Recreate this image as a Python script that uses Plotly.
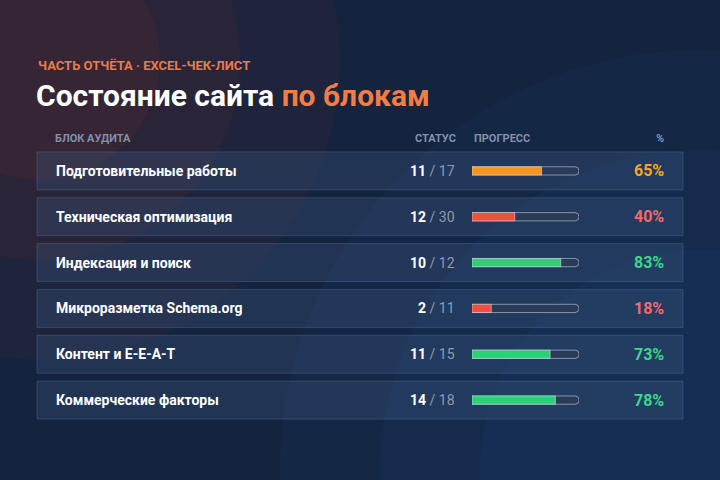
import plotly.graph_objects as go

blocks = ["Подготовительные работы", "Техническая оптимизация", "Индексация и поиск",
          "Микроразметка Schema.org", "Контент и E-E-A-T", "Коммерческие факторы"]
done = [11, 12, 10, 2, 11, 14]
total = [17, 30, 12, 11, 15, 18]
pct = [65, 40, 83, 18, 73, 78]
bar_colors = ["#f7941d", "#f04e3e", "#2fcf7a", "#f04e3e", "#2fcf7a", "#2fcf7a"]
pct_colors = ["#f5a72a", "#f26a6a", "#3dd68c", "#f26a6a", "#3dd68c", "#3dd68c"]

W, H = 720, 480
FONT = "Roboto, Inter, sans-serif"

fig = go.Figure()

# background glow (decorative)
for r, op, col in [(420, 0.10, "#1d4a86"), (320, 0.12, "#1d4a86"), (220, 0.14, "#1d4a86")]:
    fig.add_shape(type="circle", xref="paper", yref="paper", layer="below",
                  x0=(700 - r) / W, x1=(700 + r) / W, y0=1 - (470 + r) / H, y1=1 - (470 - r) / H,
                  fillcolor=col, opacity=op, line_width=0)
for r, op in [(300, 0.10), (200, 0.14), (120, 0.16)]:
    fig.add_shape(type="circle", xref="paper", yref="paper", layer="below",
                  x0=(40 - r) / W, x1=(40 + r) / W, y0=1 - (60 + r) / H, y1=1 - (60 - r) / H,
                  fillcolor="#7a2e24", opacity=op, line_width=0)

# tracks and progress bars
fig.add_trace(go.Bar(y=blocks, x=[100] * len(blocks), orientation="h", marker_color="#2a3b58",
                     width=0.18, hoverinfo="skip"))
fig.add_trace(go.Bar(y=blocks, x=pct, orientation="h", marker_color=bar_colors,
                     width=0.18, hoverinfo="skip"))

y_top, y_bot = 148, 423
for i, b in enumerate(blocks):
    cy = y_top + (i + 0.5) * (y_bot - y_top) / len(blocks)
    fig.add_shape(type="rect", xref="paper", yref="paper",
                  x0=37 / W, x1=683 / W, y0=1 - (cy + 19) / H, y1=1 - (cy - 19) / H,
                  line=dict(color="rgba(120,150,200,0.25)", width=1),
                  fillcolor="rgba(60,85,125,0.35)", layer="below")
    fig.add_annotation(x=54 / W, y=b, xref="paper", yref="y", text="<b>%s</b>" % b,
                       xanchor="left", yanchor="middle", showarrow=False,
                       font=dict(size=14, color="#ffffff", family=FONT))
    fig.add_annotation(x=457 / W, y=b, xref="paper", yref="y",
                       text="<b>%d</b> <span style='color:#8d9bb3'>/ %d</span>" % (done[i], total[i]),
                       xanchor="right", yanchor="middle", showarrow=False,
                       font=dict(size=14, color="#ffffff", family=FONT))
    fig.add_annotation(x=666 / W, y=b, xref="paper", yref="y", text="<b>%d%%</b>" % pct[i],
                       xanchor="right", yanchor="middle", showarrow=False,
                       font=dict(size=16, color=pct_colors[i], family=FONT))


def label(x, y, text, size, color, anchor="left"):
    fig.add_annotation(x=x / W, y=1 - y / H, xref="paper", yref="paper", text=text,
                       xanchor=anchor, yanchor="middle", showarrow=False,
                       font=dict(size=size, color=color, family=FONT))


hdr_col = "#8391a8"
label(53, 138, "<b>БЛОК АУДИТА</b>", 11, hdr_col)
label(458, 138, "<b>СТАТУС</b>", 11, hdr_col, "right")
label(472, 138, "<b>ПРОГРЕСС</b>", 11, hdr_col)
label(666, 138, "<b>%</b>", 11, hdr_col, "right")
label(36, 66, "<b>ЧАСТЬ ОТЧЁТА · EXCEL-ЧЕК-ЛИСТ</b>", 13, "#ea7b4b")
label(34, 96, "<b>Состояние сайта <span style='color:#f47c45'>по блокам</span></b>", 30, "#ffffff")

fig.update_layout(
    width=W, height=H, margin=dict(l=0, r=0, t=0, b=0),
    paper_bgcolor="#14233e", plot_bgcolor="rgba(0,0,0,0)",
    showlegend=False, barmode="overlay", barcornerradius=4,
    xaxis=dict(domain=[472 / W, 579 / W], range=[0, 100], visible=False, fixedrange=True),
    yaxis=dict(domain=[1 - y_bot / H, 1 - y_top / H], categoryorder="array", categoryarray=blocks,
               autorange="reversed", visible=False, fixedrange=True),
)
fig.write_html("out.html", config={"displayModeBar": False})

with open("out.html", encoding="utf-8") as f:
    page = f.read()
page = page.replace("<head>", "<head><style>html,body{margin:0;padding:0;overflow:hidden}</style>", 1)
with open("out.html", "w", encoding="utf-8") as f:
    f.write(page)
